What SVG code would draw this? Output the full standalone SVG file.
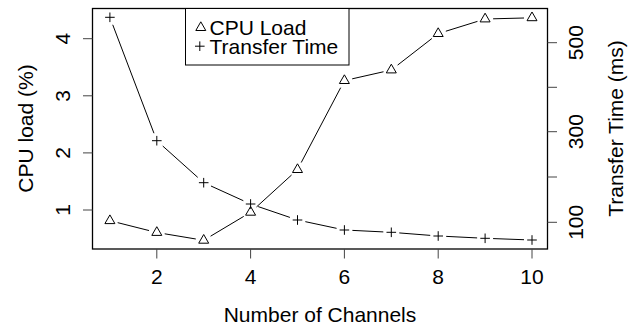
<svg xmlns="http://www.w3.org/2000/svg" width="636" height="328" viewBox="0 0 636 328">
<style>
text{font-family:"Liberation Sans",Arial,Helvetica,sans-serif;font-size:21px;fill:#000}
.mid{text-anchor:middle}
.box{fill:none;stroke:#000;stroke-width:1.3}
.tick{stroke:#444;stroke-width:1}
.ln{stroke:#000;stroke-width:1;fill:none}
.tri{fill:none;stroke:#000;stroke-width:1}
.plus{fill:none;stroke:#000;stroke-width:1}
</style>
<defs>
<path id="tri" class="tri" d="M0,-5.8 L5,2.9 L-5,2.9 Z"/>
<path id="plus" class="plus" d="M-4.8,0 H4.8 M0,-4.8 V4.8"/>
</defs>
<rect width="636" height="328" fill="#fff"/>
<g id="plot-frame">
<rect class="box" x="92.5" y="8.5" width="455" height="240.5"/>
</g>
<g id="x-axis">
<path class="tick" d="M156.8,249 V258.5 M250.6,249 V258.5 M344.4,249 V258.5 M438.2,249 V258.5 M532,249 V258.5"/>
<text class="mid" x="156.8" y="284">2</text>
<text class="mid" x="250.6" y="284">4</text>
<text class="mid" x="344.4" y="284">6</text>
<text class="mid" x="438.2" y="284">8</text>
<text class="mid" x="532" y="284">10</text>
<text class="mid" x="320" y="322">Number of Channels</text>
</g>
<g id="y-axis-left">
<path class="tick" d="M92.5,210 H83 M92.5,152.9 H83 M92.5,95.8 H83 M92.5,38.7 H83"/>
<text class="mid" transform="translate(70,210) rotate(-90)">1</text>
<text class="mid" transform="translate(70,152.9) rotate(-90)">2</text>
<text class="mid" transform="translate(70,95.8) rotate(-90)">3</text>
<text class="mid" transform="translate(70,38.7) rotate(-90)">4</text>
<text class="mid" transform="translate(32.5,128.5) rotate(-90)">CPU load (%)</text>
</g>
<g id="y-axis-right">
<path class="tick" d="M547.5,222.3 H557 M547.5,177 H557 M547.5,131.7 H557 M547.5,87.3 H557 M547.5,42.7 H557"/>
<text class="mid" transform="translate(583,222.3) rotate(-90)">100</text>
<text class="mid" transform="translate(583,131.7) rotate(-90)">300</text>
<text class="mid" transform="translate(583,42.7) rotate(-90)">500</text>
<text class="mid" transform="translate(622.5,128.5) rotate(-90)">Transfer Time (ms)</text>
</g>
<g id="connectors">
<path class="ln" d="M117.66,222.65 L149.04,230.55 M164.69,233.81 L195.81,238.99 M210.57,236.2 L243.73,216.4 M256.52,206.91 L291.58,174.99 M301.23,162.52 L340.67,87.68 M352.2,78.84 L383.5,71.76 M397.62,65.1 L431.88,38.5 M445.84,31.22 L477.46,21.38 M493.1,18.8 L524,18"/>
<path class="ln" d="M112.74,24.78 L153.96,133.22 M162.76,146.04 L197.74,177.36 M210.98,186.01 L243.32,200.69 M258.17,206.58 L289.93,217.42 M305.32,221.67 L336.58,228.33 M352.39,230.39 L383.31,231.91 M399.27,232.93 L430.23,235.37 M446.19,236.39 L477.11,237.91 M493.09,238.59 L524.01,239.71"/>
</g>
<g id="cpu-load">
<use href="#tri" x="109.9" y="220.7"/>
<use href="#tri" x="156.8" y="232.5"/>
<use href="#tri" x="203.7" y="240.3"/>
<use href="#tri" x="250.6" y="212.3"/>
<use href="#tri" x="297.5" y="169.6"/>
<use href="#tri" x="344.4" y="80.6"/>
<use href="#tri" x="391.3" y="70"/>
<use href="#tri" x="438.2" y="33.6"/>
<use href="#tri" x="485.1" y="19"/>
<use href="#tri" x="532" y="17.8"/>
</g>
<g id="transfer-time">
<use href="#plus" x="109.9" y="17.3"/>
<use href="#plus" x="156.8" y="140.7"/>
<use href="#plus" x="203.7" y="182.7"/>
<use href="#plus" x="250.6" y="204"/>
<use href="#plus" x="297.5" y="220"/>
<use href="#plus" x="344.4" y="230"/>
<use href="#plus" x="391.3" y="232.3"/>
<use href="#plus" x="438.2" y="236"/>
<use href="#plus" x="485.1" y="238.3"/>
<use href="#plus" x="532" y="240"/>
</g>
<g id="legend">
<rect x="185.5" y="8.5" width="163.5" height="56.5" fill="#fff" stroke="#000" stroke-width="1"/>
<use href="#tri" x="200.8" y="27.6"/>
<use href="#plus" x="199.8" y="46.2"/>
<text x="209.5" y="35">CPU Load</text>
<text x="209.5" y="54">Transfer Time</text>
</g>
</svg>
